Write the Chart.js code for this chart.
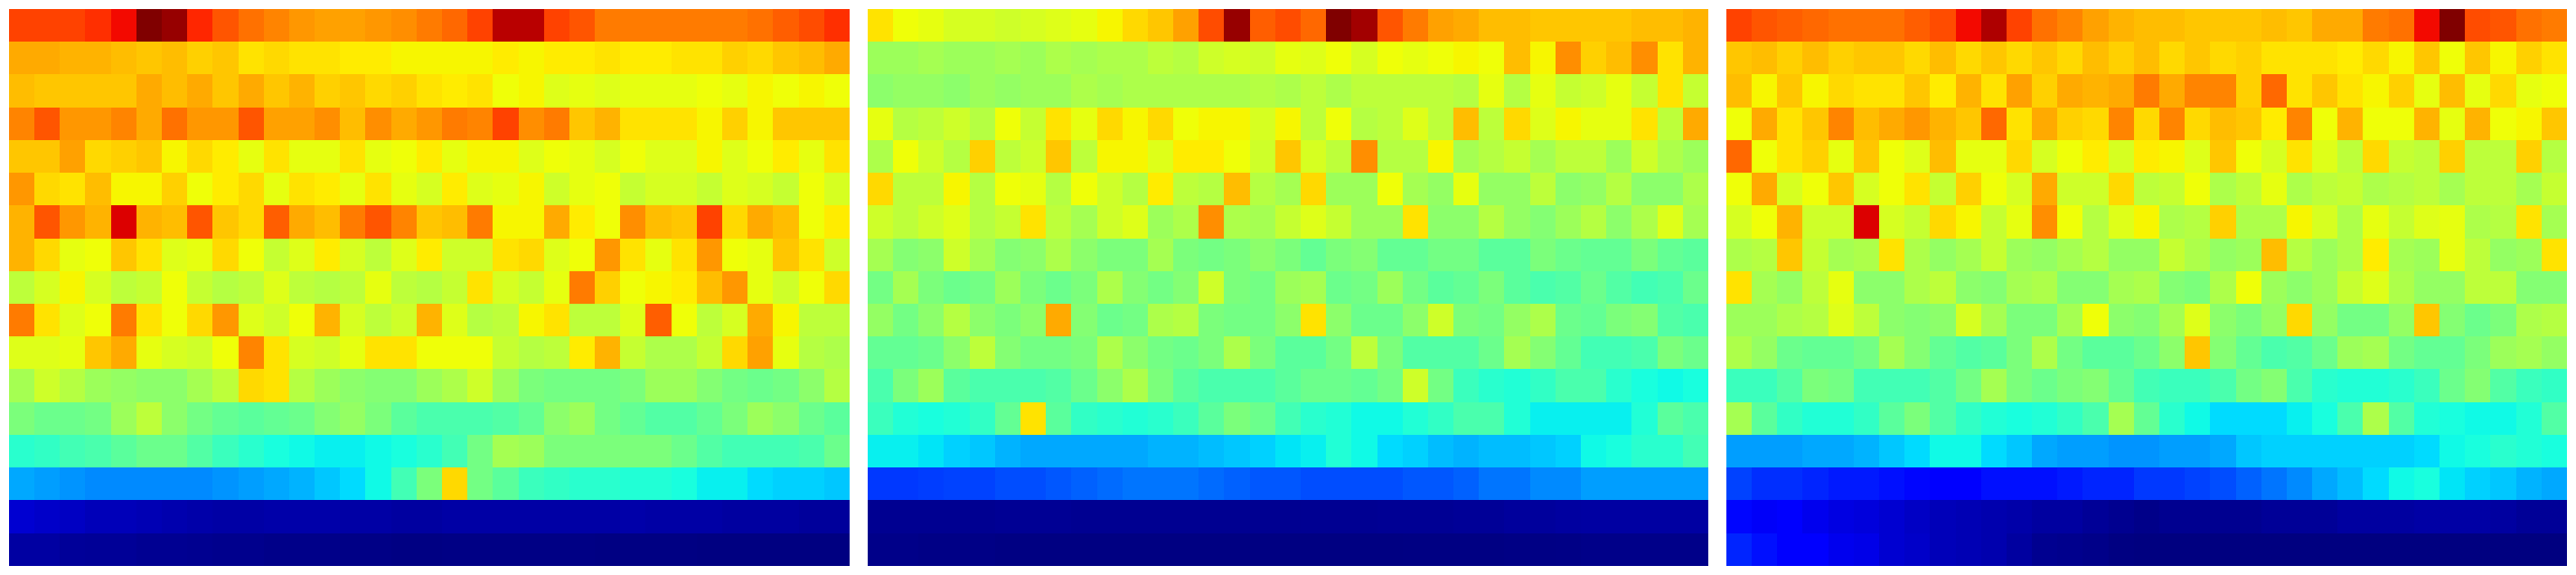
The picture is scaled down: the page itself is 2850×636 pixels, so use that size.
<!DOCTYPE html>
<html>
<head>
<meta charset="utf-8">
<title>Heatmaps</title>
<script src="https://cdn.jsdelivr.net/npm/chart.js@4/dist/chart.umd.js"></script>
<style>
html,body{margin:0;padding:0;background:#fff;width:2850px;height:636px;overflow:hidden}
canvas{position:absolute;top:10px;display:block}
</style>
</head>
<body>
<canvas id="c0" width="930" height="616" style="left:10px"></canvas>
<canvas id="c1" width="930" height="616" style="left:960px"></canvas>
<canvas id="c2" width="930" height="616" style="left:1910px"></canvas>
<script>
const columns = ["0","1","2","3","4","5","6","7","8","9","10","11","12","13","14","15","16","17","18","19","20","21","22","23","24","25","26","27","28","29","30","31","32"];

const panelA = [
[84,84,84,86,90,100,98,87,82,79,77,75,74,74,75,76,78,80,84,95,95,84,82,78,78,78,78,78,78,79,81,83,86],
[73,73,72,72,71,70,71,69,70,67,68,67,67,66,66,65,65,65,65,66,65,66,66,67,66,66,67,67,69,68,70,71,73],
[71,70,70,70,70,73,71,73,70,73,70,72,69,70,68,69,67,66,67,64,65,62,63,62,63,63,63,64,63,65,64,65,64],
[77,82,75,75,77,73,79,75,75,82,74,74,76,71,76,73,75,78,77,84,76,78,70,72,67,67,67,65,69,65,70,70,70],
[70,70,74,68,69,70,65,68,66,63,67,63,63,67,63,64,66,63,65,65,62,64,63,61,64,62,62,65,62,64,66,63,67],
[75,68,67,71,65,65,69,64,66,68,63,67,66,63,67,63,61,66,62,63,65,60,63,64,59,61,61,59,62,61,59,64,61],
[72,82,75,72,92,72,71,82,70,68,81,73,71,78,82,77,70,71,78,65,65,73,66,64,76,71,70,84,68,73,71,64,66],
[72,68,63,64,70,67,62,63,68,64,59,62,66,61,58,62,66,60,60,67,68,62,64,75,67,63,67,75,64,63,70,67,60],
[58,61,65,61,58,59,64,59,57,58,62,58,57,58,63,58,57,59,67,61,59,63,78,69,64,65,66,71,75,63,60,64,68],
[78,67,62,64,78,67,64,68,75,62,60,64,72,61,58,60,72,62,57,58,65,67,58,58,62,81,64,58,61,73,65,58,58],
[62,62,63,70,73,63,61,60,64,77,67,61,60,63,67,67,64,64,64,59,57,58,66,72,59,56,56,59,68,74,63,57,56],
[55,60,57,54,53,52,52,55,58,68,67,57,54,52,51,51,54,56,60,54,50,49,49,49,50,54,54,51,49,48,49,52,57],
[50,48,48,49,54,58,52,49,47,46,47,48,51,53,50,46,44,44,44,45,47,52,54,49,47,45,45,47,50,54,52,48,46],
[40,41,43,44,46,48,48,45,42,40,38,37,36,36,37,38,40,43,49,55,54,50,50,50,50,50,48,45,43,43,43,44,48],
[29,28,27,26,26,26,26,26,27,28,29,30,32,34,37,43,50,68,49,46,42,41,40,40,39,39,38,36,36,34,33,33,32],
[7,6.3,5.8,5,5,4.5,4,3.6,3.2,3.2,3.6,3.6,3.6,3.2,3.2,2.8,2.8,3.2,3.2,3.2,3.2,3.2,3.2,3.2,3.6,3.2,3.2,3.2,2.8,2.8,2.8,2.4,2.4],
[3,3,2.2,2,2,1.6,1.6,1.4,1.2,1.2,0.8,0.8,0.8,0.6,0.6,0.3,0.3,0.5,0.5,0.5,0.5,0.5,0.5,0.3,0.3,0.3,0.3,0.1,0.1,0.1,0.1,0.1,0.1]
];

const panelB = [
[67,64,63,61,61,60,61,62,63,65,68,70,74,83,98,81,83,80,100,97,82,78,74,73,71,71,70,70,70,70,71,71,72],
[54,54,55,54,54,55,54,56,55,56,56,58,57,60,61,60,63,62,64,61,64,63,64,65,64,71,65,76,69,71,76,67,72],
[52,53,53,52,54,53,54,54,56,55,56,56,56,56,56,57,56,58,56,58,58,58,58,57,63,57,63,59,60,63,59,67,59],
[63,57,58,60,57,64,59,67,63,68,65,68,64,65,65,61,65,58,64,57,58,62,58,71,58,68,62,65,63,63,67,58,73],
[56,64,60,57,69,58,60,70,58,65,65,62,66,66,64,60,70,61,58,76,57,57,65,55,57,59,55,58,58,54,60,56,54],
[68,58,58,65,57,64,63,57,64,60,57,66,58,57,71,57,55,68,54,54,64,55,53,63,53,53,58,52,53,57,52,52,56],
[60,58,60,62,57,59,67,58,55,60,62,54,56,76,56,55,59,62,59,54,54,67,52,52,57,53,51,54,57,52,56,62,55],
[55,51,52,60,55,51,52,56,52,50,50,55,50,49,50,52,50,47,50,51,47,47,49,49,46,46,50,48,47,47,50,47,46],
[49,55,50,48,49,54,50,48,50,56,51,49,51,60,50,49,54,55,48,49,54,49,46,47,50,46,44,45,48,45,43,44,48],
[53,49,52,57,52,50,52,73,51,48,49,56,57,50,49,49,52,67,52,48,48,52,60,50,49,53,56,48,47,50,51,45,44],
[47,47,48,52,58,51,49,49,50,56,52,49,48,50,56,50,46,46,49,58,50,45,45,45,48,55,51,47,43,43,44,50,48],
[44,50,54,46,44,44,44,45,48,52,56,50,46,44,44,44,46,48,48,47,49,60,49,42,40,39,41,44,44,40,38,37,38],
[42,39,38,39,41,47,67,46,41,40,39,40,42,46,50,48,43,40,39,37,37,39,41,44,44,39,36,36,36,36,39,46,44],
[36,36,35,33,32,30,29,29,29,29,29,30,30,31,32,33,35,36,39,37,34,33,31,30,31,31,32,33,37,38,40,40,43],
[18,18,18.5,19,19,20,20,21,22,23,24,24,24,23,22,21,21,20,20,20,20,21,21,22,24,24,26,26,28,28,28,28,28],
[1.5,1.5,1.5,1.5,1.5,1.8,1.8,1.8,1.5,1.5,1.5,1.5,1.5,1.5,1.5,1.5,1.5,1.6,1.6,1.6,1.8,1.8,1.8,2,2,2.5,2.5,2.8,3,3,3,3,3],
[0.8,0.8,0.6,0.6,0.6,0.3,0.2,0.2,0.2,0.2,0.2,0.2,0.2,0.2,0.2,0.2,0.2,0.2,0.2,0.2,0.2,0.3,0.3,0.3,0.3,0.5,0.5,0.6,0.8,0.8,0.8,0.8,0.8]
];

const panelC = [
[84,82,81,80,79,79,79,81,83,90,96,84,79,77,74,72,71,71,70,70,70,71,70,73,73,78,79,90,100,83,82,79,78],
[70,71,69,71,69,70,70,68,71,68,70,68,70,68,71,69,71,68,70,68,69,67,67,67,66,68,65,70,64,70,65,69,67],
[71,65,70,65,68,67,67,70,66,72,67,74,69,73,72,73,78,73,77,77,69,80,67,70,67,65,69,63,71,63,68,63,64],
[64,73,67,70,77,71,73,75,72,70,80,67,73,69,68,77,68,77,68,71,70,66,77,64,72,64,64,72,63,72,64,65,70],
[80,64,67,69,63,70,64,62,71,63,63,68,61,64,66,61,66,65,62,70,64,61,67,62,58,68,59,58,69,58,58,69,57],
[64,73,61,64,70,61,64,67,59,69,64,61,73,60,60,68,58,59,64,56,58,63,56,58,59,56,57,58,55,58,58,55,59],
[61,64,72,60,60,92,61,59,68,65,59,63,76,64,57,62,65,56,57,69,56,56,65,61,56,63,59,62,63,56,57,67,55],
[56,57,70,59,55,56,67,56,53,55,59,54,53,55,57,53,53,59,56,53,54,71,57,54,56,66,55,54,63,58,53,54,67],
[67,55,53,58,63,52,52,56,58,52,51,55,56,51,51,55,56,51,50,56,64,54,52,54,59,62,56,53,53,58,58,51,51],
[54,54,56,57,62,58,52,51,52,61,55,50,50,55,64,52,51,55,62,52,50,53,68,53,49,49,53,70,51,48,50,56,57],
[56,53,48,47,47,49,55,51,47,45,46,50,56,49,46,46,48,52,70,51,47,44,45,48,54,55,49,47,47,50,54,55,53],
[42,42,45,50,49,43,43,43,45,49,55,50,48,50,51,47,43,42,42,44,49,51,44,40,39,39,40,42,48,51,45,42,41],
[55,46,41,39,39,41,46,50,45,41,39,38,39,41,44,55,47,40,37,34,34,34,36,38,44,56,45,39,38,37,37,39,45],
[28,28,28,29,29,30,32,34,37,37,34,32,29,28,28,27,27,28,28,29,32,33,33,33,33,33,33,34,37,38,40,39,38],
[19,17,17,16,15,15,14,13,12,12,14,14,14,15,16,16,18,18,19,20,22,24,26,29,31,34,37,38,35,33,32,30,29],
[13,10.5,11,9.5,8.5,8,7,6,5,4.5,4,3.6,2.8,2.8,2,1.4,0.8,1.4,1.4,1.4,1.4,2,2,2,2.8,2.8,2.8,3.2,3.2,3.2,2.8,2,2],
[16,14,12,12,9.5,9,7,6.3,5,4.5,4,2.8,1.4,1.2,0.8,0.2,0,0,0,0,0,0,0,0,0,0,0,0,0,0,0,0,0]
];

// Matplotlib "jet" colour map
const jetR = [[0,0],[.35,0],[.66,1],[.89,1],[1,.5]];
const jetG = [[0,0],[.125,0],[.375,1],[.64,1],[.91,0],[1,0]];
const jetB = [[0,.5],[.11,1],[.34,1],[.65,0],[1,0]];
function lerp(stops, v) {
  for (let i = 1; i < stops.length; i++) {
    if (v <= stops[i][0]) {
      const [a, p] = stops[i - 1], [b, q] = stops[i];
      return p + (q - p) * (v - a) / (b - a);
    }
  }
  return stops[stops.length - 1][1];
}
function jet(pct) {
  const v = Math.max(0, Math.min(1, pct / 100));
  return `rgb(${Math.round(lerp(jetR, v) * 255)},${Math.round(lerp(jetG, v) * 255)},${Math.round(lerp(jetB, v) * 255)})`;
}

// Cells are drawn on whole pixels, as the nearest-neighbour image in the reference is.
const snap = v => Math.round(v - 0.1);
Chart.BarElement.prototype.draw = function (ctx) {
  const half = this.width / 2;
  const l = snap(this.x - half), r = snap(this.x + half);
  const t = snap(Math.min(this.y, this.base)), b = snap(Math.max(this.y, this.base));
  ctx.save();
  ctx.fillStyle = this.options.backgroundColor;
  ctx.fillRect(l, t, r - l, b - t);
  ctx.restore();
};

function heatmap(id, rows) {
  new Chart(document.getElementById(id), {
    type: 'bar',
    data: {
      labels: columns,
      datasets: rows.map((row, r) => ({
        label: 'row ' + r,
        data: row.map(() => [r, r + 1]),
        backgroundColor: row.map(jet),
        borderWidth: 0,
        grouped: false,
        barPercentage: 1,
        categoryPercentage: 1
      }))
    },
    options: {
      responsive: false,
      animation: false,
      devicePixelRatio: 1,
      layout: { padding: 0 },
      plugins: { legend: { display: false }, tooltip: { enabled: false }, title: { display: false } },
      scales: {
        x: { type: 'category', display: false, offset: true, grid: { display: false } },
        y: { type: 'linear', display: false, min: 0, max: rows.length, reverse: true, grid: { display: false } }
      }
    }
  });
}

heatmap('c0', panelA);
heatmap('c1', panelB);
heatmap('c2', panelC);
</script>
</body>
</html>
